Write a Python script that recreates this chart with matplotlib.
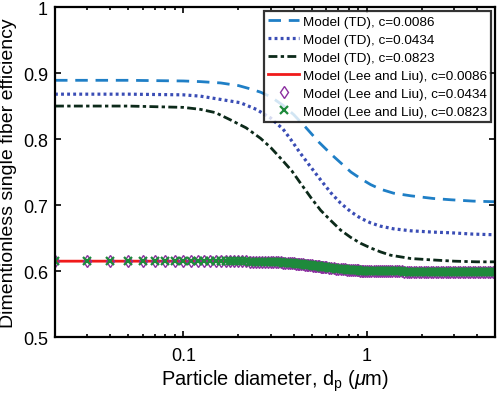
import matplotlib
matplotlib.use("Agg")
import matplotlib.pyplot as plt
from matplotlib.ticker import NullFormatter

plt.rcParams['font.family'] = ['Liberation Sans', 'DejaVu Sans']
plt.rcParams['mathtext.fontset'] = 'custom'
plt.rcParams['mathtext.rm'] = 'Liberation Sans'
plt.rcParams['mathtext.it'] = 'Liberation Sans:italic'

# Model (TD) curves
td1_x = [0.02, 0.05, 0.1, 0.124, 0.16, 0.2, 0.232, 0.264, 0.3, 0.35, 0.4, 0.464, 0.55,
         0.64, 0.721, 0.82, 0.927, 1.05, 1.19, 1.4, 1.74, 2.3, 2.88, 3.8, 5.0]
td1_y = [0.889, 0.889, 0.888, 0.887, 0.885, 0.881, 0.876, 0.871, 0.864, 0.851, 0.837, 0.818,
         0.795, 0.777, 0.764, 0.750, 0.740, 0.731, 0.724, 0.718, 0.714, 0.710, 0.708, 0.706, 0.705]

td2_x = [0.02, 0.05, 0.1, 0.124, 0.16, 0.205, 0.25, 0.299, 0.35, 0.384, 0.436, 0.494, 0.561,
         0.64, 0.72, 0.818, 0.927, 1.05, 1.19, 1.4, 1.74, 2.3, 2.88, 3.8, 5.0]
td2_y = [0.868, 0.868, 0.867, 0.865, 0.860, 0.855, 0.845, 0.832, 0.815, 0.800, 0.778, 0.758,
         0.738, 0.718, 0.703, 0.690, 0.680, 0.673, 0.668, 0.664, 0.661, 0.659, 0.658, 0.656, 0.655]

td3_x = [0.02, 0.05, 0.1, 0.124, 0.15, 0.181, 0.22, 0.264, 0.3, 0.339, 0.39, 0.436, 0.5,
         0.561, 0.64, 0.721, 0.818, 0.927, 1.05, 1.19, 1.35, 1.74, 2.24, 3.0, 4.0, 5.0]
td3_y = [0.850, 0.850, 0.848, 0.845, 0.840, 0.829, 0.817, 0.801, 0.787, 0.771, 0.752, 0.733,
         0.710, 0.692, 0.676, 0.662, 0.651, 0.642, 0.635, 0.629, 0.624, 0.619, 0.617, 0.615,
         0.614, 0.614]

# Model (Lee and Liu) line
ll_x = [0.02, 0.1, 0.2, 0.25, 0.3, 0.35, 0.4, 0.5, 0.6, 0.7, 0.8, 0.9, 1.0, 1.2, 1.5, 2.0, 3.0, 5.0]
ll_y = [0.615, 0.615, 0.6147, 0.6144, 0.6137, 0.6127, 0.6115, 0.6085, 0.6056, 0.6034, 0.6022,
        0.6011, 0.6003, 0.5997, 0.5994, 0.5992, 0.599, 0.599]

# Model (Lee and Liu) marker points
mk_x = [0.02, 0.03, 0.04, 0.05, 0.06, 0.07, 0.08, 0.09, 0.10, 0.11, 0.12, 0.13, 0.14, 0.15,
        0.16, 0.17, 0.18, 0.19, 0.20, 0.21, 0.22, 0.23, 0.24, 0.25, 0.26, 0.27, 0.28, 0.29,
        0.30, 0.31, 0.32, 0.33, 0.34, 0.35, 0.36, 0.37, 0.38, 0.39, 0.40, 0.41, 0.42, 0.43,
        0.44, 0.45, 0.46, 0.47, 0.48, 0.49, 0.50, 0.51, 0.52, 0.53, 0.54, 0.55, 0.56, 0.57,
        0.58, 0.59, 0.60, 0.62, 0.64, 0.66, 0.68, 0.70, 0.72, 0.74, 0.76, 0.78, 0.80, 0.82,
        0.84, 0.86, 0.88, 0.90, 0.92, 0.94, 0.96, 0.98, 1.00, 1.03, 1.06, 1.09, 1.12, 1.15,
        1.18, 1.21, 1.24, 1.27, 1.30, 1.34, 1.38, 1.42, 1.46, 1.50, 1.55, 1.60, 1.65, 1.70,
        1.75, 1.80, 1.86, 1.92, 1.98, 2.04, 2.10, 2.17, 2.24, 2.31, 2.38, 2.45, 2.53, 2.61,
        2.69, 2.77, 2.86, 2.95, 3.04, 3.14, 3.24, 3.34, 3.45, 3.56, 3.67, 3.79, 3.91, 4.03,
        4.16, 4.29, 4.43, 4.57, 4.71, 4.86, 5.00]
mk_y = [0.6150, 0.6150, 0.6150, 0.6150, 0.6150, 0.6150, 0.6150, 0.6150, 0.6150, 0.6150,
        0.6150, 0.6150, 0.6149, 0.6149, 0.6149, 0.6148, 0.6148, 0.6147, 0.6147, 0.6147,
        0.6146, 0.6145, 0.6144, 0.6144, 0.6142, 0.6141, 0.6140, 0.6139, 0.6137, 0.6135,
        0.6134, 0.6132, 0.6130, 0.6127, 0.6125, 0.6123, 0.6120, 0.6118, 0.6115, 0.6112,
        0.6109, 0.6107, 0.6104, 0.6100, 0.6097, 0.6094, 0.6091, 0.6088, 0.6085, 0.6082,
        0.6079, 0.6076, 0.6073, 0.6070, 0.6067, 0.6065, 0.6062, 0.6059, 0.6056, 0.6051,
        0.6046, 0.6042, 0.6038, 0.6034, 0.6031, 0.6028, 0.6025, 0.6022, 0.6020, 0.6017,
        0.6015, 0.6013, 0.6011, 0.6010, 0.6008, 0.6007, 0.6006, 0.6004, 0.6003, 0.6002,
        0.6001, 0.6000, 0.5999, 0.5998, 0.5998, 0.5997, 0.5997, 0.5996, 0.5996, 0.5995,
        0.5995, 0.5995, 0.5994, 0.5994, 0.5994, 0.5993, 0.5993, 0.5993, 0.5993, 0.5992,
        0.5992, 0.5992, 0.5992, 0.5992, 0.5991, 0.5991, 0.5991, 0.5991, 0.5991, 0.5991,
        0.5991, 0.5990, 0.5990, 0.5990, 0.5990, 0.5990, 0.5990, 0.5990, 0.5990, 0.5990,
        0.5990, 0.5990, 0.5990, 0.5990, 0.5990, 0.5990, 0.5990, 0.5990, 0.5990, 0.5990,
        0.5990, 0.5990, 0.5990]

fig = plt.figure(figsize=(5, 4.02), dpi=100)
ax = fig.add_axes([0.11, 0.159, 0.88, 0.821])

ax.plot(td1_x, td1_y, color='#1f7fc6', lw=2, dashes=(4.5, 2.8),
        label='Model (TD), c=0.0086')
ax.plot(td2_x, td2_y, color='#3a4db5', lw=2.3, dashes=(0.9, 1.0),
        label='Model (TD), c=0.0434')
ax.plot(td3_x, td3_y, color='#0c2a1a', lw=2, dashes=(3.2, 1.2, 1.2, 1.2),
        label='Model (TD), c=0.0823')
ax.plot(ll_x, ll_y, color='#f01a1a', lw=2, label='Model (Lee and Liu), c=0.0086')
ax.plot(mk_x, mk_y, ls='none', marker='d', ms=6.5, mfc='none', mec='#8b2fa0', mew=1,
        label='Model (Lee and Liu), c=0.0434')
ax.plot(mk_x, mk_y, ls='none', marker='x', ms=5.8, color='#1e8a3c', mew=1.6,
        label='Model (Lee and Liu), c=0.0823')

ax.set_xscale('log')
ax.set_xlim(0.02, 5)
ax.set_ylim(0.5, 1.0)
ax.set_xticks([0.1, 1])
ax.set_xticklabels(['0.1', '1'])
ax.xaxis.set_minor_formatter(NullFormatter())
ax.set_yticks([0.5, 0.6, 0.7, 0.8, 0.9, 1.0])
ax.set_yticklabels(['0.5', '0.6', '0.7', '0.8', '0.9', '1'])
ax.tick_params(which='both', direction='in', top=True, right=True, labelsize=13, width=1.2)
ax.tick_params(axis='x', which='both', pad=7)
ax.tick_params(axis='y', which='both', pad=5)
ax.tick_params(which='major', length=4)
ax.tick_params(which='minor', length=2.5)
for s in ax.spines.values():
    s.set_linewidth(1.6)

ax.set_xlabel(r'Particle diameter, d$_\mathrm{p}$ ($\mathit{\mu}$m)', fontsize=14.4, labelpad=3)
ax.set_ylabel('Dimentionless single fiber efficiency', fontsize=14, labelpad=4)

leg = ax.legend(loc='upper right', fontsize=9.7, frameon=True, fancybox=False,
                edgecolor='black', handlelength=2.3, handletextpad=0.25,
                labelspacing=0.42, borderpad=0.3, borderaxespad=0.3)
leg.get_frame().set_linewidth(1.6)

fig.savefig('out.png', dpi=100)
